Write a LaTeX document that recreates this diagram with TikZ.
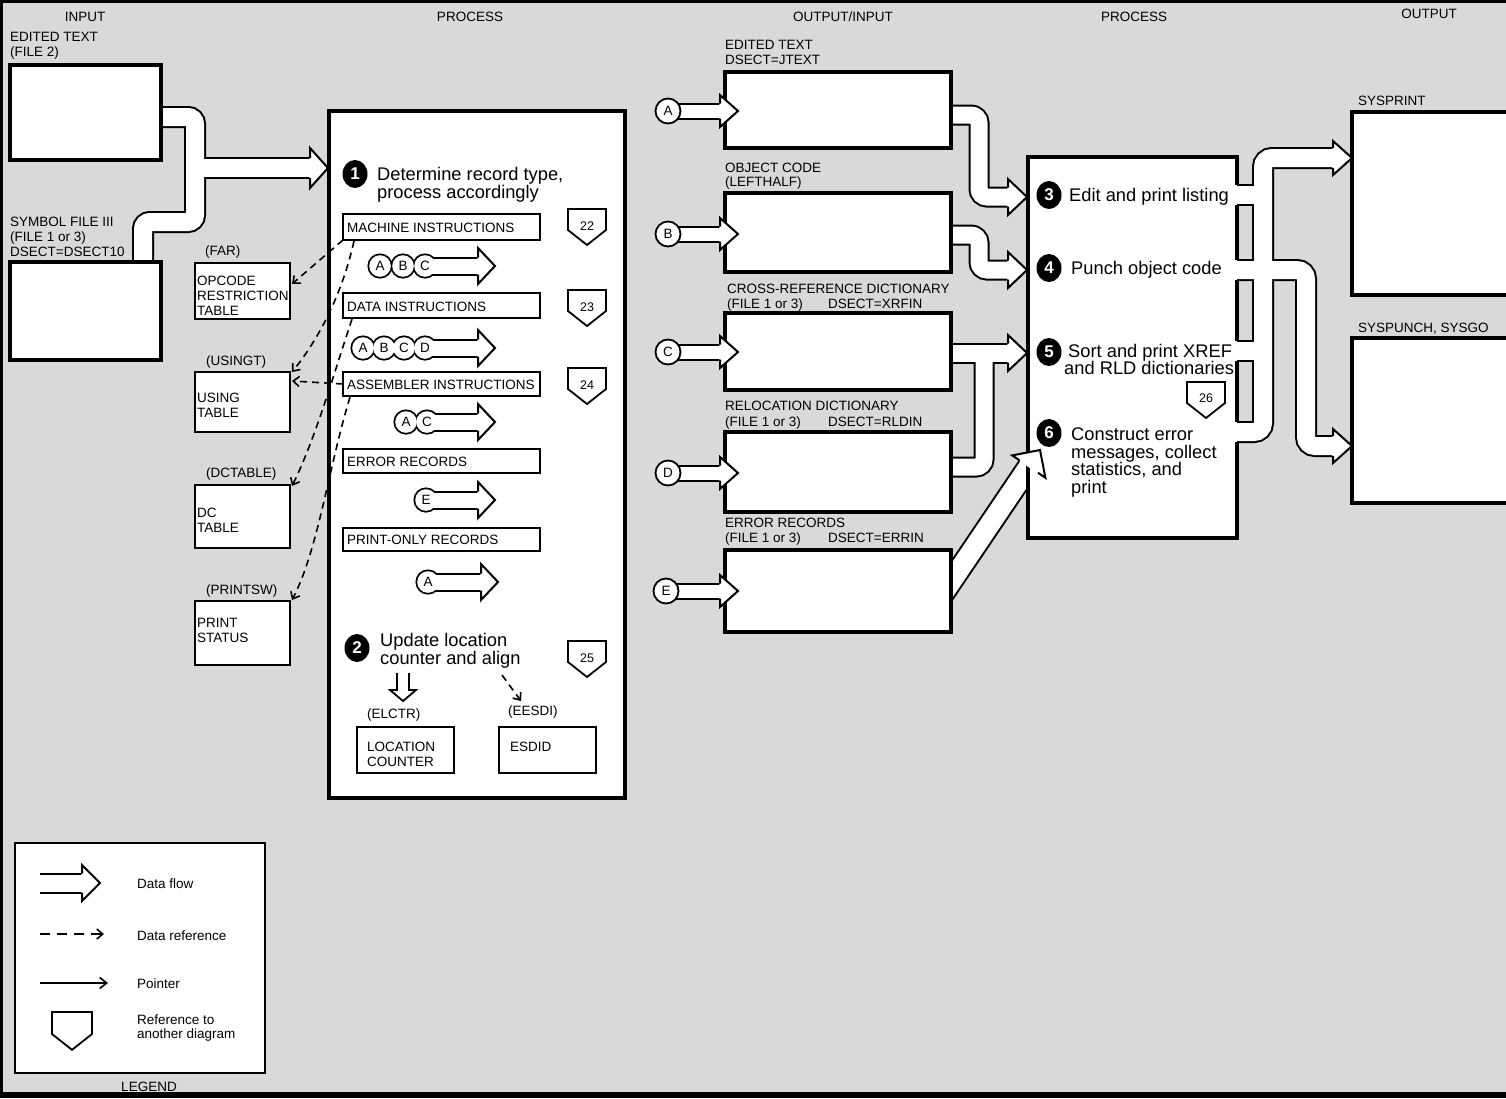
\documentclass[tikz,border=0pt]{standalone}
\usepackage{fontspec}
\setmainfont{Liberation Sans}
\usetikzlibrary{arrows.meta,shapes.geometric}
\definecolor{bg}{gray}{0.85}
\newcommand\lblf{\fontsize{13.5}{15}\selectfont}
\newcommand\stepf{\fontsize{18.3}{18}\selectfont}
\newcommand\hdrf{\fontsize{13.5}{15}\selectfont}
\newcommand\refnf{\fontsize{12.5}{14}\selectfont}
\newcommand\letf{\fontsize{13.5}{14}\selectfont}
\newcommand\legf{\fontsize{13.5}{15}\selectfont}
\newcommand\numf{\fontsize{17}{17}\selectfont\bfseries}
% hollow arrow head: #1 tip, #2 angle, #3 length, #4 half width, #5 band half width
\newcommand\FH[5]{%
 \begin{scope}[shift={#1},rotate=#2]
 \fill[white] (-#3-0.6,#4) -- (0,0) -- (-#3-0.6,-#4) -- cycle;
 \draw[line width=2pt,line join=miter] (-#3,#5) -- (-#3,#4) -- (0,0) -- (-#3,-#4) -- (-#3,-#5);
 \end{scope}}
% chain of circles with flow arrow: #1 y, #2 list x/letter, #3 last x, #4 tip x
\newcommand\chain[4]{%
 \foreach \cx/\cl in {#2} \fill[black] (\cx,#1) circle (12.6pt);
 \draw[bk=19pt] (#3,#1) -- (#4-17,#1);
 \foreach \cx/\cl in {#2} \fill[white] (\cx,#1) circle (10.8pt);
 \draw[wh=15pt] (#3,#1) -- (#4-17,#1);
 \foreach \cx/\cl in {#2} \node[letn] (L\cl#1) at (\cx,#1) {\cl};
 \FH{(#4,#1)}{0}{17}{18}{8.5}}
\begin{document}
\begin{tikzpicture}[x=1pt,y=-1pt,
  bk/.style={draw=black,line width=#1},
  wh/.style={draw=white,line width=#1},
  bigbox/.style={draw=black,fill=white,line width=3.6pt,inner sep=0pt,outer sep=0pt,anchor=north west},
  tbox/.style={draw=black,fill=white,line width=2pt,inner sep=0pt,outer sep=0pt,anchor=north west},
  lbl/.style={font=\lblf,anchor=base west,inner sep=0pt},
  hdr/.style={font=\hdrf,anchor=base,inner sep=0pt},
  stp/.style={font=\stepf,anchor=base west,inner sep=0pt},
  leg/.style={font=\legf,anchor=base west,inner sep=0pt},
  stepnum/.style={ellipse,fill=black,text=white,font=\numf,minimum width=25pt,minimum height=28pt,inner sep=0pt},
  circ/.style={circle,draw=black,fill=white,line width=1.8pt,minimum size=25pt,inner sep=0pt,font=\letf},
  letn/.style={font=\letf,inner sep=0pt},
  refn/.style={font=\refnf,inner sep=0pt},
  dref/.style={line width=1.6pt,dash pattern=on 7pt off 5pt,-{Straight Barb[length=6pt,width=10pt]}},
  refp/.pic={\draw[line width=1.8pt,fill=white,line join=miter] (-19,0)--(19,0)--(19,21)--(0,36)--(-19,21)--cycle;}
]
\useasboundingbox (0,0) rectangle (1506,1098);
\fill[bg] (0,0) rectangle (1506,1098);
\fill[black] (0,0) rectangle (1506,3);
\fill[black] (0,0) rectangle (3,1098);
\fill[black] (0,1092) rectangle (1506,1098);

% headers
\node[hdr] (hIn) at (85,21) {INPUT};
\node[hdr] (hP1) at (470,21) {PROCESS};
\node[hdr] (hOI) at (843,21) {OUTPUT/INPUT};
\node[hdr] (hP2) at (1134,21) {PROCESS};
\node[hdr] (hOut) at (1429,18) {OUTPUT};

% ---------- input flow
\coordinate (jIn) at (195,168);
\draw[bk=22pt,rounded corners=7pt] (150,117) -- (195,117) -- (195,222) -- (143,222) -- (143,275);
\draw[bk=22pt] (jIn) -- (310,168);
\draw[wh=18pt,rounded corners=7pt] (150,117) -- (195,117) -- (195,222) -- (143,222) -- (143,275);
\draw[wh=18pt] (jIn) -- (310,168);

\node[bigbox,minimum width=151pt,minimum height=95pt] (in1) at (10,65) {};
\node[bigbox,minimum width=151pt,minimum height=98pt] (in2) at (10,262) {};
\node[lbl] (tEd) at (10,41) {EDITED TEXT};
\node[lbl] (tF2) at (10,56) {(FILE 2)};
\node[lbl] (tSy) at (10,226) {SYMBOL FILE III};
\node[lbl] (tF13) at (10,241) {(FILE 1 or 3)};
\node[lbl] (tDs) at (10,256) {DSECT=DSECT10};

% tables
\node[tbox,minimum width=95pt,minimum height=56pt] (tOp) at (195,263) {};
\node[tbox,minimum width=95pt,minimum height=60pt] (tUs) at (195,372) {};
\node[tbox,minimum width=95pt,minimum height=63pt] (tDc) at (195,485) {};
\node[tbox,minimum width=95pt,minimum height=64pt] (tPr) at (195,601) {};
\node[lbl] (nFar) at (205,255) {(FAR)};
\node[lbl] (nUs) at (206,365) {(USINGT)};
\node[lbl] (nDc) at (206,477) {(DCTABLE)};
\node[lbl] (nPr) at (206,594) {(PRINTSW)};
\node[lbl] (a1) at (197,285) {OPCODE};
\node[lbl] (a2) at (197,300) {RESTRICTION};
\node[lbl] (a3) at (197,315) {TABLE};
\node[lbl] (b1) at (197,402) {USING};
\node[lbl] (b2) at (197,417) {TABLE};
\node[lbl] (c1) at (197,517) {DC};
\node[lbl] (c2) at (197,532) {TABLE};
\node[lbl] (d1) at (197,627) {PRINT};
\node[lbl] (d2) at (197,642) {STATUS};

% ---------- process box 1
\node[bigbox,minimum width=296pt,minimum height=687pt] (p1) at (329,111) {};
\FH{(328,168)}{0}{18}{20}{10}
\node[stepnum] (s1) at (355,174) {1};
\node[stp] (t1a) at (377,180) {Determine record type,};
\node[stp] (t1b) at (377,198) {process accordingly};

\node[tbox,minimum width=197pt,minimum height=26pt] (lMI) at (343,214) {};
\node[tbox,minimum width=197pt,minimum height=25pt] (lDI) at (343,293) {};
\node[tbox,minimum width=197pt,minimum height=24pt] (lAI) at (343,372) {};
\node[tbox,minimum width=197pt,minimum height=24pt] (lER) at (343,449) {};
\node[tbox,minimum width=197pt,minimum height=23pt] (lPO) at (343,528) {};
\node[lbl] (xMI) at (347,232) {MACHINE INSTRUCTIONS};
\node[lbl] (xDI) at (347,311) {DATA INSTRUCTIONS};
\node[lbl] (xAI) at (347,389) {ASSEMBLER INSTRUCTIONS};
\node[lbl] (xER) at (347,466) {ERROR RECORDS};
\node[lbl] (xPO) at (347,544) {PRINT-ONLY RECORDS};

\pic at (587,209) {refp}; \node[refn] (r22) at (587,226) {22};
\pic at (587,290) {refp}; \node[refn] (r23) at (587,307) {23};
\pic at (587,368) {refp}; \node[refn] (r24) at (587,385) {24};
\pic at (587,641) {refp}; \node[refn] (r25) at (587,658) {25};

\chain{266}{380/A,403/B,425/C}{425}{495}
\chain{348}{363/A,384/B,404/C,425/D}{425}{495}
\chain{422}{406/A,427/C}{427}{495}
\chain{500}{426/E}{426}{495}
\chain{582}{428/A}{428}{498}

% data references
\draw[dref] (lMI.south west) -- (292,284);
\draw[dref] (354,241) .. controls (342,295) and (318,340) .. (292,372);
\draw[dref] (lAI.west) -- (292,381);
\draw[dref] (352,319) .. controls (335,370) and (315,440) .. (292,486);
\draw[dref] (350,397) .. controls (328,470) and (318,550) .. (292,600);

% step 2
\node[stepnum] (s2) at (357,648) {2};
\node[stp] (t2a) at (380,646) {Update location};
\node[stp] (t2b) at (380,664) {counter and align};
\draw[line width=1.8pt,line join=miter] (397,673) -- (397,690) -- (390,690) -- (403,701) -- (416,690) -- (409,690) -- (409,673);
\draw[dref] (502,675) -- (521,701);
\node[lbl] (nEl) at (367,718) {(ELCTR)};
\node[lbl] (nEe) at (508,715) {(EESDI)};
\node[tbox,line width=2.4pt,minimum width=97pt,minimum height=46pt] (lc) at (357,727) {};
\node[tbox,line width=2.4pt,minimum width=97pt,minimum height=46pt] (es) at (499,727) {};
\node[lbl] (lc1) at (367,751) {LOCATION};
\node[lbl] (lc2) at (367,766) {COUNTER};
\node[lbl] (es1) at (510,751) {ESDID};

% ---------- middle column
\coordinate (cA) at (668,111);
\coordinate (cB) at (668,234);
\coordinate (cC) at (668,352);
\coordinate (cD) at (668,473);
\coordinate (cE) at (666,591);
\foreach \c in {cA,cB,cC,cD,cE} \draw[bk=17pt] (\c) -- ++(54,0);
\foreach \c in {cA,cB,cC,cD,cE} \draw[wh=13pt] (\c) -- ++(54,0);
\node[circ] (nA) at (cA) {A};
\node[circ] (nB) at (cB) {B};
\node[circ] (nC) at (cC) {C};
\node[circ] (nD) at (cD) {D};
\node[circ] (nE) at (cE) {E};

% bands to process box 2
\draw[bk=21pt,rounded corners=8pt] (940,115) -- (979,115) -- (979,197) -- (1008,197);
\draw[bk=21pt,rounded corners=8pt] (940,235) -- (979,235) -- (979,270) -- (1008,270);
\draw[bk=21pt] (940,353) -- (1008,353);
\draw[bk=21pt,rounded corners=8pt] (940,467) -- (984,467) -- (984,353);
\draw[bk=24pt] (934,607) -- (1028.8,466.6);
\draw[wh=17pt,rounded corners=8pt] (940,115) -- (979,115) -- (979,197) -- (1008,197);
\draw[wh=17pt,rounded corners=8pt] (940,235) -- (979,235) -- (979,270) -- (1008,270);
\draw[wh=17pt] (940,353) -- (1008,353);
\draw[wh=17pt,rounded corners=8pt] (940,467) -- (984,467) -- (984,353);
\draw[wh=20pt] (934,607) -- (1028.8,466.6);

\node[bigbox,minimum width=226pt,minimum height=76pt] (o1) at (725,72) {};
\node[bigbox,minimum width=226pt,minimum height=79pt] (o2) at (725,193) {};
\node[bigbox,minimum width=226pt,minimum height=77pt] (o3) at (725,313) {};
\node[bigbox,minimum width=226pt,minimum height=80pt] (o4) at (725,432) {};
\node[bigbox,minimum width=226pt,minimum height=82pt] (o5) at (725,550) {};
\foreach \y in {111,234,352,473,591} {\FH{(738,\y)}{0}{18}{16}{7.5}}

\node[lbl] (m1a) at (725,49) {EDITED TEXT};
\node[lbl] (m1b) at (725,64) {DSECT=JTEXT};
\node[lbl] (m2a) at (725,172) {OBJECT CODE};
\node[lbl] (m2b) at (725,186) {(LEFTHALF)};
\node[lbl] (m3a) at (727,293) {CROSS-REFERENCE DICTIONARY};
\node[lbl] (m3b) at (727,308) {\makebox[101pt][l]{(FILE 1 or 3)}DSECT=XRFIN};
\node[lbl] (m4a) at (725,410) {RELOCATION DICTIONARY};
\node[lbl] (m4b) at (725,426) {\makebox[103pt][l]{(FILE 1 or 3)}DSECT=RLDIN};
\node[lbl] (m5a) at (725,527) {ERROR RECORDS};
\node[lbl] (m5b) at (725,542) {\makebox[103pt][l]{(FILE 1 or 3)}DSECT=ERRIN};

% ---------- process box 2
\node[draw=none,fill=white,minimum width=209pt,minimum height=381pt,anchor=north west,inner sep=0pt,outer sep=0pt] (p2) at (1028,157) {};
\draw[bk=22pt,rounded corners=9pt] (1237,432) -- (1263,432) -- (1263,158) -- (1333,158);
\draw[bk=22pt] (1237,195) -- (1263,195);
\draw[bk=22pt] (1237,351) -- (1263,351);
\draw[bk=22pt,rounded corners=9pt] (1237,270) -- (1306,270) -- (1306,446) -- (1333,446);
\draw[wh=18pt,rounded corners=9pt] (1237,432) -- (1263,432) -- (1263,158) -- (1333,158);
\draw[wh=18pt] (1237,195) -- (1263,195);
\draw[wh=18pt] (1237,351) -- (1263,351);
\draw[wh=18pt,rounded corners=9pt] (1237,270) -- (1306,270) -- (1306,446) -- (1333,446);
\draw[line width=3.6pt,line join=miter] (1237,185) -- (1237,157) -- (1028,157) -- (1028,538) -- (1237,538) -- (1237,442);
\draw[line width=3.6pt] (1237,205) -- (1237,260) (1237,280) -- (1237,341) (1237,361) -- (1237,422);

\FH{(1027,197)}{0}{19}{18}{9.5}
\FH{(1027,270)}{0}{19}{18}{9.5}
\FH{(1027,353)}{0}{19}{18}{9.5}
\FH{(1040,450)}{56}{20}{20}{11}

\node[stepnum] (s3) at (1049,195) {3};
\node[stepnum] (s4) at (1049,268) {4};
\node[stepnum] (s5) at (1049,352) {5};
\node[stepnum] (s6) at (1049,433) {6};
\node[stp] (t3) at (1069,201) {Edit and print listing};
\node[stp] (t4) at (1071,274) {Punch object code};
\node[stp] (t5a) at (1068,357) {Sort and print XREF};
\node[stp] (t5b) at (1064,374) {and RLD dictionaries};
\node[stp] (t6a) at (1071,440) {Construct error};
\node[stp] (t6b) at (1071,458) {messages, collect};
\node[stp] (t6c) at (1071,475) {statistics, and};
\node[stp] (t6d) at (1071,493) {print};
\pic at (1206,382) {refp}; \node[refn] (r26) at (1206,398) {26};

% ---------- outputs
\node[bigbox,minimum width=175pt,minimum height=183pt] (sp) at (1352,112) {};
\node[bigbox,minimum width=175pt,minimum height=165pt] (su) at (1352,338) {};
\FH{(1352,158)}{0}{19}{17}{10}
\FH{(1352,446)}{0}{19}{17}{10}
\node[lbl] (nSp) at (1358,105) {SYSPRINT};
\node[lbl] (nSu) at (1358,332) {SYSPUNCH, SYSGO};

% ---------- legend
\node[tbox,minimum width=250pt,minimum height=230pt] (lg) at (15,843) {};
\draw[bk=21pt] (40,883) -- (82,883);
\draw[wh=17pt] (40,883) -- (82,883);
\FH{(100,883)}{0}{18}{18}{9.5}
\draw[line width=1.6pt,dash pattern=on 10pt off 7pt,-{Straight Barb[length=6pt,width=10pt]}] (40,934) -- (104,934);
\draw[line width=1.6pt,-{Straight Barb[length=7pt,width=11pt]}] (40,983) -- (108,983);
\pic[scale=1.05] at (72,1012) {refp};
\node[leg] (g1) at (137,888) {Data flow};
\node[leg] (g2) at (137,940) {Data reference};
\node[leg] (g3) at (137,988) {Pointer};
\node[leg] (g4) at (137,1024) {Reference to};
\node[leg] (g5) at (137,1038) {another diagram};
\node[hdr] (gL) at (149,1091) {LEGEND};
\end{tikzpicture}
\end{document}
